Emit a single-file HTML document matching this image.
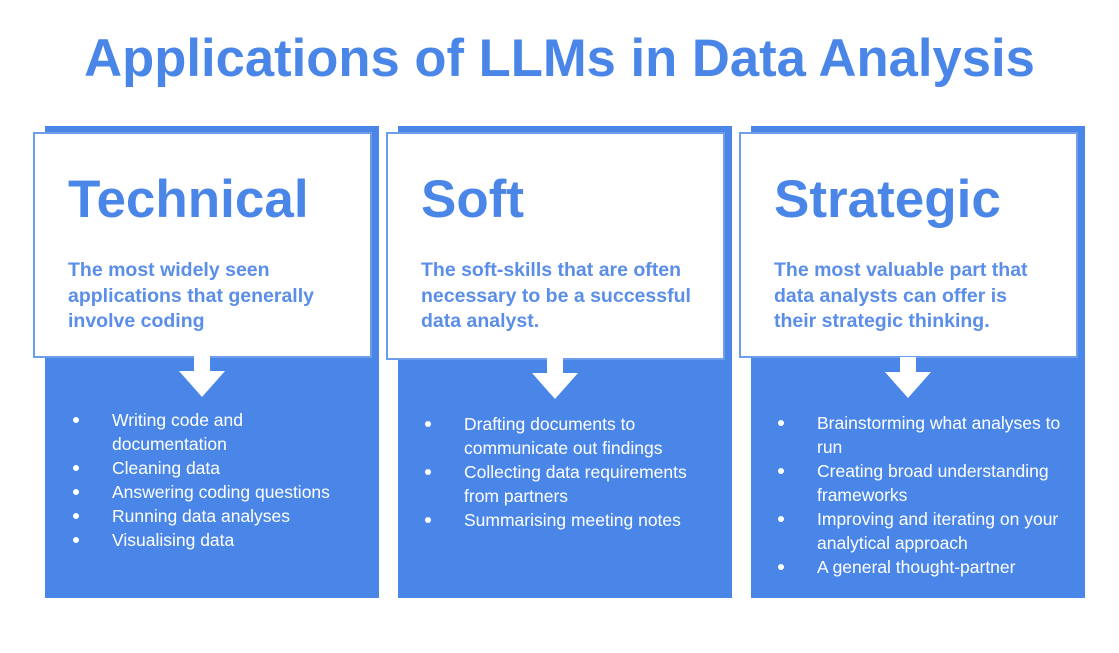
<!DOCTYPE html>
<html><head><style>
body{margin:0;width:1119px;height:653px;background:#fff;font-family:"Liberation Sans",sans-serif;position:relative;overflow:hidden}
.t{position:absolute;left:0;width:1119px;top:28px;text-align:center;color:#4a86e8;font-weight:bold;font-size:52.6px;white-space:nowrap}
.blue{position:absolute;background:#4a86e8;top:126px;width:334px;height:472px}
.wb{position:absolute;background:#fff;border:2px solid #6d9eeb;top:132px;width:339px;height:224px;box-sizing:border-box}
.h{position:absolute;left:33px;top:35px;font-size:53px;font-weight:bold;color:#4a86e8;white-space:nowrap}
.s{position:absolute;left:33px;top:124px;font-size:19.5px;font-weight:bold;color:#5a8ee8;line-height:25.5px;width:275px}
ul{position:absolute;margin:0;padding:0;list-style:none;color:#fff;font-size:17.5px;line-height:24px}
li{position:relative;padding-left:0}
li:before{content:"";position:absolute;left:-39px;top:9px;width:6px;height:6px;border-radius:50%;background:#fff}
svg{position:absolute}
</style></head><body>
<div class="t">Applications of LLMs in Data Analysis</div>

<div class="blue" style="left:45px"></div>
<div class="wb" style="left:33px;height:226px"><div class="h">Technical</div><div class="s">The most widely seen applications that generally involve coding</div></div>
<svg style="left:179px;top:356px" width="46" height="42"><polygon points="15,0 31,0 31,15 46,15 23,41 0,15 15,15" fill="#fff"/></svg>
<ul style="left:112px;top:408px;width:250px"><li>Writing code and documentation</li><li>Cleaning data</li><li>Answering coding questions</li><li>Running data analyses</li><li>Visualising data</li></ul>

<div class="blue" style="left:398px"></div>
<div class="wb" style="left:386px;height:228px"><div class="h">Soft</div><div class="s">The soft-skills that are often necessary to be a successful data analyst.</div></div>
<svg style="left:532px;top:358px" width="46" height="42"><polygon points="15,0 31,0 31,15 46,15 23,41 0,15 15,15" fill="#fff"/></svg>
<ul style="left:464px;top:412px;width:250px"><li>Drafting documents to communicate out findings</li><li>Collecting data requirements from partners</li><li>Summarising meeting notes</li></ul>

<div class="blue" style="left:751px"></div>
<div class="wb" style="left:739px;height:226px"><div class="h">Strategic</div><div class="s">The most valuable part that data analysts can offer is their strategic thinking.</div></div>
<svg style="left:885px;top:357px" width="46" height="42"><polygon points="15,0 31,0 31,15 46,15 23,41 0,15 15,15" fill="#fff"/></svg>
<ul style="left:817px;top:411px;width:250px"><li>Brainstorming what analyses to run</li><li>Creating broad understanding frameworks</li><li>Improving and iterating on your analytical approach</li><li>A general thought-partner</li></ul>
</body></html>
